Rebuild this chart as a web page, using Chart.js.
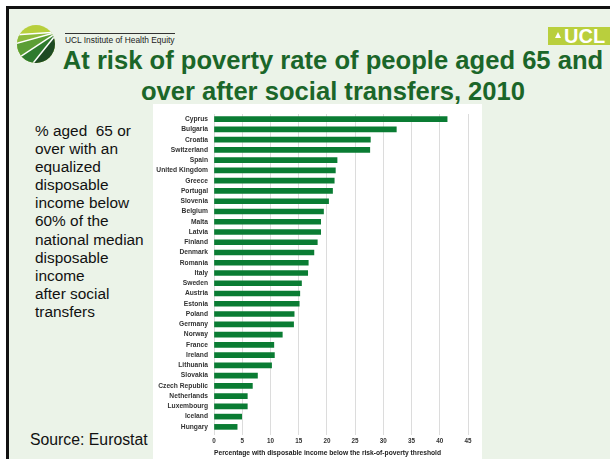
<!DOCTYPE html>
<html>
<head>
<meta charset="utf-8">
<script src="https://cdn.jsdelivr.net/npm/chart.js@4.4.0/dist/chart.umd.min.js"></script>
<style>
  html, body { margin: 0; padding: 0; background: #fff; }
  body { width: 610px; height: 459px; position: relative; overflow: hidden; font-family: "Liberation Sans", Arial, sans-serif; }
  #slide { position: absolute; left: 6px; top: 6px; width: 610px; height: 460px; background: #ebf3e8; border-left: 3px solid #111; border-top: 3px solid #111; }
  .abs { position: absolute; }
  #inst { left: 65px; top: 33px; font-size: 8.4px; color: #222; border-top: 1px solid #333; padding-top: 1px; }
  #title { left: 48px; top: 45px; width: 570px; text-align: center; font-size: 25.6px; font-weight: bold; color: #1b6629; line-height: 31px; }
  #note { left: 35px; top: 122px; font-size: 15.4px; line-height: 18.1px; color: #111; }
  #source { left: 30px; top: 431px; font-size: 15.8px; color: #111; }
  #panel { left: 153px; top: 104px; width: 329px; height: 355px; background: #fff; }
  #ucl { left: 548px; top: 27px; width: 62px; height: 18px; background: #b9cf3d; color: #fff; font-weight: bold; font-size: 20px; line-height: 19px; }
</style>
</head>
<body>
<div id="slide"></div>

<svg class="abs" style="left:0;top:0" width="80" height="80">
  <defs><clipPath id="c"><circle cx="36" cy="44" r="19"/></clipPath></defs>
  <g clip-path="url(#c)">
    <rect x="0" y="0" width="80" height="80" fill="#b7cf3c"/>
    <polygon points="58,32 0,36 0,48" fill="#8dbb3d"/>
    <polygon points="58,32 0,48 6,66" fill="#5b9e35"/>
    <polygon points="58,32 6,66 26,72" fill="#2e7a2e"/>
    <polygon points="58,32 26,72 70,72" fill="#1e4a24"/>
    <g stroke="#fff" stroke-width="1.5">
      <line x1="58" y1="32" x2="0" y2="36"/>
      <line x1="58" y1="32" x2="0" y2="48"/>
      <line x1="58" y1="32" x2="6" y2="66"/>
      <line x1="58" y1="32" x2="26" y2="72"/>
    </g>
  </g>
</svg>

<div id="ucl" class="abs">
  <svg class="abs" style="left:6px;top:4px" width="8" height="8"><path d="M1 7 L4 1 L7 7 Z" fill="#fff"/></svg>
  <span class="abs" style="left:16px;top:0">UCL</span>
</div>

<div id="inst" class="abs">UCL Institute of Health Equity</div>
<div id="title" class="abs">At risk of poverty rate of people aged 65 and<br>over after social transfers, 2010</div>
<div id="note" class="abs">% aged&nbsp; 65 or<br>over with an<br>equalized<br>disposable<br>income below<br>60% of the<br>national median<br>disposable<br>income<br>after social<br>transfers</div>
<div id="source" class="abs">Source: Eurostat</div>

<div id="panel" class="abs">
  <canvas id="barChart"></canvas>
</div>

<script>
const countries = ["Cyprus", "Bulgaria", "Croatia", "Switzerland", "Spain", "United Kingdom", "Greece",
  "Portugal", "Slovenia", "Belgium", "Malta", "Latvia", "Finland", "Denmark", "Romania", "Italy",
  "Sweden", "Austria", "Estonia", "Poland", "Germany", "Norway", "France", "Ireland", "Lithuania",
  "Slovakia", "Czech Republic", "Netherlands", "Luxembourg", "Iceland", "Hungary"];
const rates = [41.3, 32.3, 27.7, 27.6, 21.8, 21.5, 21.3, 21.0, 20.3, 19.4, 18.9, 18.9, 18.3, 17.7, 16.7, 16.6,
  15.5, 15.2, 15.1, 14.2, 14.1, 12.1, 10.6, 10.7, 10.2, 7.7, 6.8, 5.9, 5.9, 4.9, 4.1];
const xTicks = [0, 5, 10, 15, 20, 25, 30, 35, 40, 45];

Chart.defaults.font.family = "'Liberation Sans', Arial, sans-serif";

const ctx = document.getElementById("barChart");
new Chart(ctx, {
  type: "bar",
  data: {
    labels: countries,
    datasets: [{
      label: "At risk of poverty rate, 65+",
      data: rates,
      backgroundColor: "#0a7c33",
      barThickness: 5
    }]
  },
  options: {
    indexAxis: "y",
    responsive: true,
    maintainAspectRatio: false,
    animation: false,
    layout: { padding: { top: 3, right: 14, left: 0, bottom: 0 } },
    scales: {
      x: {
        min: 0,
        max: 45,
        afterBuildTicks: axis => { axis.ticks = xTicks.map(v => ({ value: v })); },
        afterFit: axis => { axis.height = 27; },
        grid: { color: "#dcdcdc", lineWidth: 1, tickLength: 3 },
        border: { display: false },
        ticks: { padding: 2, color: "#333", font: { size: 6.3, weight: "bold" } },
        title: {
          display: true,
          align: "start",
          text: "Percentage with disposable income below the risk-of-poverty threshold",
          color: "#222",
          font: { size: 6.7, weight: "bold" },
          padding: { top: 0, bottom: 2 }
        }
      },
      y: {
        afterFit: axis => { axis.width = 61; },
        grid: { display: false, drawTicks: false },
        border: { display: false },
        ticks: { padding: 6, color: "#333", autoSkip: false, font: { size: 6.7, weight: "bold" } }
      }
    },
    plugins: {
      legend: { display: false },
      tooltip: { enabled: false }
    }
  }
});
</script>
</body>
</html>
